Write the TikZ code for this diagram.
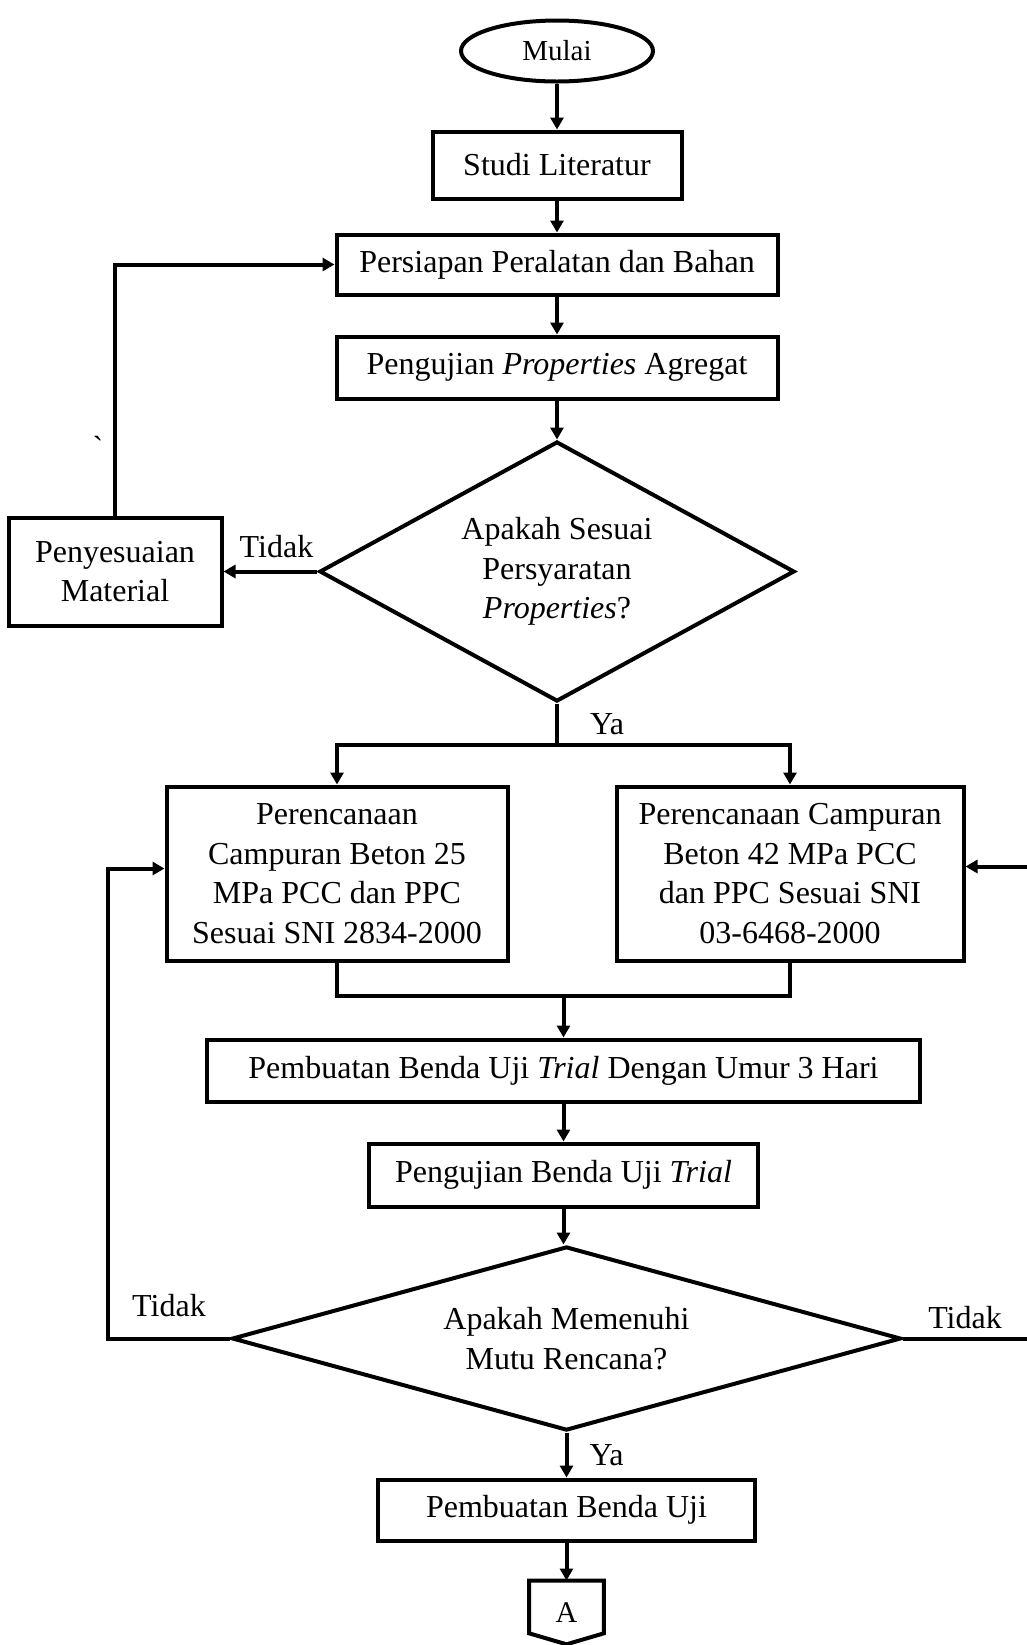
\documentclass[tikz,border=0pt]{standalone}
\usepackage{fontspec}
\setmainfont{Liberation Serif}
\usetikzlibrary{arrows.meta, positioning, shapes.geometric, calc}

\begin{document}
\begin{tikzpicture}[
    x=0.5pt, y=-0.5pt,
    node distance=20pt,
    teks/.style={font=\fontsize{16}{19.75}\selectfont},
    ket/.style={teks, inner sep=0pt},
    kotak/.style={draw, line width=2pt, teks, align=center, inner sep=0pt},
    keputusan/.style={draw, diamond, line width=2pt, teks, align=center, inner sep=0pt},
    panah/.style={-{Triangle[length=6pt, width=6.5pt]}, line width=2pt},
    garis/.style={line width=2pt}
]
    \useasboundingbox (0,0) rectangle (1027,1645);
    \coordinate (tepi) at (1027,0);

    \node[draw, ellipse, line width=2pt, minimum width=96pt, minimum height=30.5pt, inner sep=0pt, font=\fontsize{14.5}{16}\selectfont] (mulai) at (557,51) {Mulai};
    \node[kotak, minimum width=124.5pt, minimum height=33.5pt, below=23pt of mulai] (studi) {Studi Literatur};
    \node[kotak, minimum width=220.5pt, minimum height=30pt, below=16pt of studi] (alat) {Persiapan Peralatan dan Bahan};
    \node[kotak, minimum width=220.5pt, minimum height=31pt, below=19pt of alat] (uji) {Pengujian \textit{Properties} Agregat};
    \node[keputusan, minimum width=237.5pt, minimum height=130pt, aspect=1.83, below=19.5pt of uji] (cek1) {Apakah Sesuai\\Persyaratan\\\textit{Properties}?};
    \node[kotak, minimum width=106.5pt, minimum height=54pt, left=47pt of cek1] (sesuai) {Penyesuaian\\Material};
    \node[ket] (tanda) at (98,447) {\textasciigrave};

    \node[kotak, minimum width=170.5pt, minimum height=87pt, below=40.5pt of cek1, xshift=-110pt] (rencanaA) {Perencanaan\\Campuran Beton 25\\MPa PCC dan PPC\\Sesuai SNI 2834-2000};
    \node[kotak, minimum width=173.5pt, minimum height=87pt, below=40.5pt of cek1, xshift=116.5pt] (rencanaB) {Perencanaan Campuran\\Beton 42 MPa PCC\\dan PPC Sesuai SNI\\03-6468-2000};

    \coordinate (cabang) at ([yshift=-20.5pt]cek1.south);
    \coordinate (gabung) at ($(rencanaA.south)!0.5!(rencanaB.south)+(0,33)$);
    \coordinate (masukA) at ([yshift=2.5pt]rencanaA.west);
    \coordinate (masukB) at ([yshift=3.5pt]rencanaB.east);

    \node[kotak, minimum width=356.5pt, minimum height=31pt, below=21pt of gabung] (trial) {Pembuatan Benda Uji \textit{Trial} Dengan Umur 3 Hari};
    \node[kotak, minimum width=194.5pt, minimum height=31.5pt, below=19pt of trial] (ujitrial) {Pengujian Benda Uji \textit{Trial}};
    \node[keputusan, minimum width=334.5pt, minimum height=92pt, aspect=3.64, below=18pt of ujitrial, xshift=1.5pt] (cek2) {Apakah Memenuhi\\Mutu Rencana?};
    \node[kotak, minimum width=188.5pt, minimum height=30.5pt, below=22.5pt of cek2] (benda) {Pembuatan Benda Uji};
    \node[ket, minimum width=37pt, minimum height=31.5pt, font=\fontsize{15}{18}\selectfont, below=19pt of benda] (hal) {A};
    \draw[garis, line join=miter] (hal.north west) -- (hal.north east) -- ([yshift=5.5pt]hal.south east) -- (hal.south) -- ([yshift=5.5pt]hal.south west) -- cycle;

    \draw[panah] (mulai) -- (studi);
    \draw[panah] (studi) -- (alat);
    \draw[panah] (alat) -- (uji);
    \draw[panah] (uji) -- (cek1);
    \draw[panah] (cek1) -- node[ket, above=6pt, xshift=3pt] {Tidak} (sesuai);
    \draw[panah] (sesuai.north) |- (alat.west);

    \draw[garis] (cek1.south) -- node[ket, right=15.5pt] {Ya} (cabang);
    \draw[panah] (cabang) -| (rencanaA.north);
    \draw[panah] (cabang) -| (rencanaB.north);
    \draw[garis] (rencanaA.south) |- (gabung) -| (rencanaB.south);
    \draw[panah] (gabung) -- (trial);
    \draw[panah] (trial) -- (ujitrial);
    \draw[panah] (ujitrial) -- (ujitrial |- cek2.north);
    \draw[panah] (cek2) -- node[ket, right=10.5pt] {Ya} (benda);
    \draw[panah] (benda) -- (hal);

    \draw[panah] (cek2.west) -- node[ket, above=10pt] {Tidak} ++(-61pt,0) |- (masukA);
    \draw[garis] (cek2.east) -- node[ket, above=4pt] {Tidak} (cek2.east -| tepi);
    \draw[panah] (masukB -| tepi) -- (masukB);
\end{tikzpicture}
\end{document}
